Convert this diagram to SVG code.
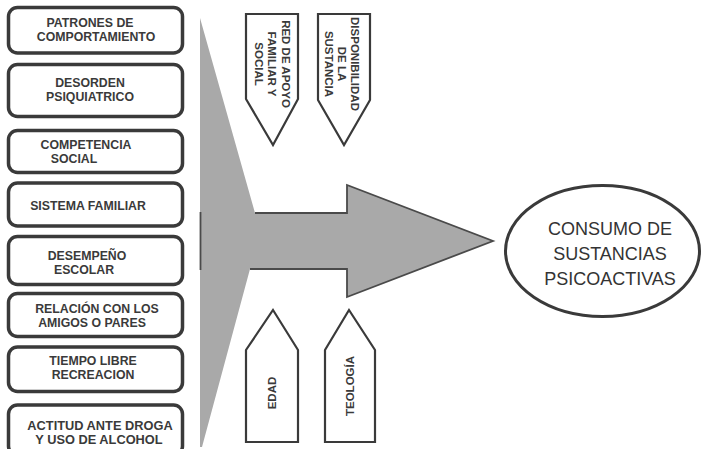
<svg xmlns="http://www.w3.org/2000/svg" width="708" height="449" viewBox="0 0 708 449">
<defs>
<style>
.box{fill:#ffffff;stroke:#3a3a3a;stroke-width:3.5}
.bt{font-family:"Liberation Sans",Arial,sans-serif;font-weight:bold;font-size:12.3px;fill:#3a3a3a;text-anchor:middle}
.pent{fill:#ffffff;stroke:#3a3a3a;stroke-width:2.2;stroke-linejoin:miter}
.pt{font-family:"Liberation Sans",Arial,sans-serif;font-weight:bold;font-size:11.5px;fill:#3a3a3a;text-anchor:middle}
.et{font-family:"Liberation Sans",Arial,sans-serif;font-size:18px;fill:#333333;text-anchor:middle}
.gray{fill:#a9a9a9}
.outline{fill:none;stroke:#4a4a4a;stroke-width:1.8;stroke-linejoin:miter}
</style>
</defs>
<rect width="708" height="449" fill="#ffffff"/>

<g id="factors">
<g id="box1"><rect class="box" x="8.5" y="7.5" width="174" height="45.5" rx="9"/>
<text class="bt" x="90" y="27.2">PATRONES DE</text><text class="bt" x="96" y="41">COMPORTAMIENTO</text></g>
<g id="box2"><rect class="box" x="8.5" y="64.5" width="174" height="52" rx="9"/>
<text class="bt" x="90" y="87.2">DESORDEN</text><text class="bt" x="90" y="101">PSIQUIATRICO</text></g>
<g id="box3"><rect class="box" x="8.5" y="130.5" width="174" height="42" rx="9"/>
<text class="bt" x="86" y="149.2">COMPETENCIA</text><text class="bt" x="74" y="163">SOCIAL</text></g>
<g id="box4"><rect class="box" x="8.5" y="183" width="174" height="43" rx="9"/>
<text class="bt" x="88" y="210">SISTEMA FAMILIAR</text></g>
<g id="box5"><rect class="box" x="8.5" y="236.5" width="174" height="48" rx="9"/>
<text class="bt" x="87" y="260.2">DESEMPEÑO</text><text class="bt" x="84" y="274">ESCOLAR</text></g>
<g id="box6"><rect class="box" x="8.5" y="293.5" width="174" height="43" rx="9"/>
<text class="bt" x="97" y="313.2">RELACIÓN CON LOS</text><text class="bt" x="92" y="327">AMIGOS O PARES</text></g>
<g id="box7"><rect class="box" x="8.5" y="347" width="174" height="44.5" rx="9"/>
<text class="bt" x="93" y="365.2">TIEMPO LIBRE</text><text class="bt" x="93" y="379">RECREACION</text></g>
<g id="box8"><rect class="box" x="8.5" y="405" width="174" height="50" rx="9"/>
<text class="bt" x="100" y="429.5" style="font-size:12.8px">ACTITUD ANTE DROGA</text><text class="bt" x="99" y="444" style="font-size:12.8px">Y USO DE ALCOHOL</text></g>
</g>

<g id="connectors">
<path class="gray" d="M200,18 L255,213 L347,213 L347,185 L493,241 L347,297 L347,269 L250,269 L202,447 L200,447 Z"/>
<path class="outline" d="M255,213 L347,213 L347,185 L493,241 L347,297 L347,269 L250,269"/>
<line x1="200.5" y1="212" x2="200.5" y2="270" stroke="#4a4a4a" stroke-width="1.8"/>
</g>

<g id="red-apoyo">
<path class="pent" d="M246,14 L298,14 L298,99 L273,145 L246,99 Z"/>
<g transform="translate(273,64) rotate(90)">
<text class="pt" x="0" y="-8.5">RED DE APOYO</text>
<text class="pt" x="0" y="5">FAMILIAR Y</text>
<text class="pt" x="0" y="18.5">SOCIAL</text>
</g>
</g>
<g id="disponibilidad">
<path class="pent" d="M318,14 L370,14 L370,100 L344,145 L318,100 Z"/>
<g transform="translate(344,64) rotate(90)">
<text class="pt" x="0" y="-7">DISPONIBILIDAD</text>
<text class="pt" x="0" y="6">DE LA</text>
<text class="pt" x="0" y="19">SUSTANCIA</text>
</g>
</g>
<g id="edad">
<path class="pent" d="M273,310 L298,350 L298,442 L246,442 L246,350 Z"/>
<text class="pt" transform="translate(276,393) rotate(-90)" x="0" y="0">EDAD</text>
</g>
<g id="teologia">
<path class="pent" d="M349,310 L375,350 L375,442 L325,442 L325,350 Z"/>
<text class="pt" transform="translate(354,386) rotate(-90)" x="0" y="0">TEOLOGÍA</text>
</g>

<g id="consumo">
<ellipse cx="602.5" cy="251" rx="97" ry="65.5" fill="#ffffff" stroke="#3a3a3a" stroke-width="3"/>
<text class="et" x="610" y="235">CONSUMO DE</text>
<text class="et" x="610" y="260">SUSTANCIAS</text>
<text class="et" x="610" y="285">PSICOACTIVAS</text>
</g>
</svg>
